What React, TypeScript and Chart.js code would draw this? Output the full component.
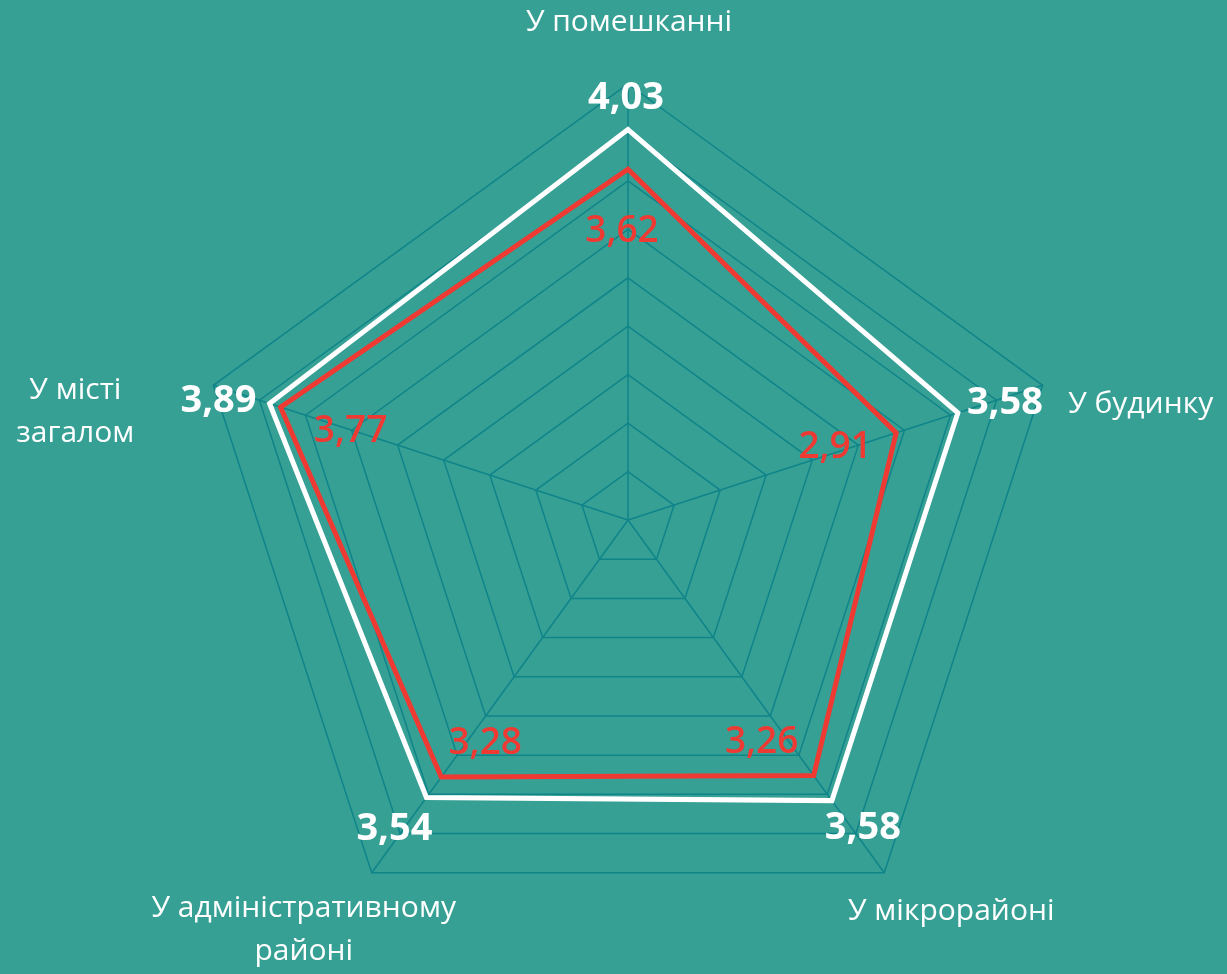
import React, { useEffect, useRef } from "react";
import { Chart, registerables } from "chart.js";

Chart.register(...registerables);

const categories: string[][] = [
  ["У помешканні"],
  ["У будинку"],
  ["У мікрорайоні"],
  ["У адміністративному", "районі"],
  ["У місті", "загалом"],
];
const whiteValues = [4.03, 3.58, 3.58, 3.54, 3.89];
const redValues = [3.62, 2.91, 3.26, 3.28, 3.77];
const scaleMax = 4.5;
const scaleStep = 0.5;

const BG = "#37A095";
const GRID = "#0F8489";
const WHITE = "#FFFFFF";
const RED = "#EE3A32";
const FONT = "'Open Sans', 'Noto Sans', sans-serif";

// label offsets (px) relative to the library-computed anchor points
const catOffsets = [
  [1, -62],
  [98, 19],
  [67, 39],
  [-68, 57],
  [-138, 27],
];
const whiteOffsets = [
  [-2, -31],
  [47, -10],
  [31, 28],
  [-32, 32],
  [-51, -2],
];
const redOffsets = [
  [-6, 62],
  [-61, 15],
  [-52, -33],
  [44, -34],
  [70, 24],
];

const fmt = (v: number) => v.toFixed(2).replace(".", ",");

const labelPlugin = {
  id: "customLabels",
  afterDatasetsDraw(chart: any) {
    const ctx = chart.ctx;
    const scale = chart.scales.r;
    ctx.save();
    ctx.textAlign = "center";
    ctx.textBaseline = "middle";
    // category labels
    ctx.font = `30px ${FONT}`;
    ctx.fillStyle = WHITE;
    const lh = 43;
    categories.forEach((lines, i) => {
      const p = scale.getPointPosition(i, scale.drawingArea);
      const cx = p.x + catOffsets[i][0];
      const cy = p.y + catOffsets[i][1];
      const start = cy - ((lines.length - 1) * lh) / 2;
      lines.forEach((t, j) => ctx.fillText(t, cx, start + j * lh));
    });
    // white values
    ctx.font = `bold 38px ${FONT}`;
    ctx.fillStyle = WHITE;
    whiteValues.forEach((v, i) => {
      const p = scale.getPointPosition(i, scale.getDistanceFromCenterForValue(v));
      ctx.fillText(fmt(v), p.x + whiteOffsets[i][0], p.y + whiteOffsets[i][1]);
    });
    // red values
    ctx.font = `600 37px ${FONT}`;
    ctx.fillStyle = RED;
    redValues.forEach((v, i) => {
      const p = scale.getPointPosition(i, scale.getDistanceFromCenterForValue(v));
      ctx.fillText(fmt(v), p.x + redOffsets[i][0], p.y + redOffsets[i][1]);
    });
    ctx.restore();
  },
};

export default function App() {
  const ref = useRef<HTMLCanvasElement>(null);
  useEffect(() => {
    if (!ref.current) return;
    const chart = new Chart(ref.current, {
      type: "radar",
      data: {
        labels: categories.map((c) => c.join(" ")),
        datasets: [
          {
            label: "white",
            data: whiteValues,
            borderColor: WHITE,
            backgroundColor: "transparent",
            borderWidth: 5,
            pointRadius: 0,
            fill: false,
          },
          {
            label: "red",
            data: redValues,
            borderColor: RED,
            backgroundColor: "transparent",
            borderWidth: 5,
            pointRadius: 0,
            fill: false,
          },
        ],
      },
      options: {
        responsive: false,
        maintainAspectRatio: false,
        animation: false,
        layout: { padding: { left: 192, right: 163, top: 84, bottom: 18 } },
        plugins: { legend: { display: false }, tooltip: { enabled: false } },
        elements: { line: { tension: 0 } },
        scales: {
          r: {
            min: 0,
            max: scaleMax,
            ticks: { display: false, stepSize: scaleStep },
            grid: { color: GRID, lineWidth: 1.5 },
            angleLines: { color: GRID, lineWidth: 1.5 },
            pointLabels: { display: false },
          },
        },
      },
      plugins: [labelPlugin],
    });
    return () => chart.destroy();
  }, []);
  return (
    <div style={{ position: "fixed", left: 0, top: 0, width: 1227, height: 974, background: BG }}>
      <canvas ref={ref} width={1227} height={974} style={{ display: "block" }} />
    </div>
  );
}
